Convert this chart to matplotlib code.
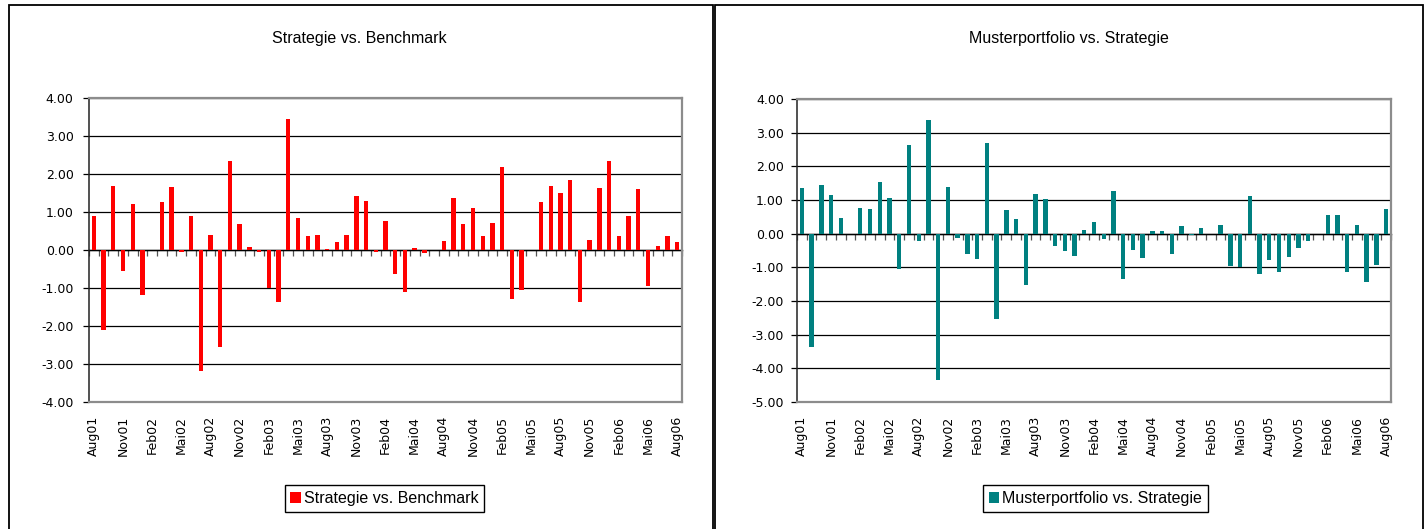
import matplotlib
matplotlib.use('Agg')
import matplotlib.pyplot as plt
import numpy as np
from matplotlib.patches import Rectangle
from matplotlib.ticker import FormatStrFormatter

plt.rcParams['axes.unicode_minus'] = False

months_de = ['Jan', 'Feb', 'Mrz', 'Apr', 'Mai', 'Jun', 'Jul', 'Aug', 'Sep', 'Okt', 'Nov', 'Dez']
categories = [f"{months_de[(7 + i) % 12]}{(1 + (7 + i) // 12):02d}" for i in range(61)]

strategie_vs_benchmark = [
    0.90, -2.10, 1.69, -0.54, 1.22, -1.18, 0.00, 1.27, 1.67, -0.04,
    0.90, -3.18, 0.40, -2.54, 2.35, 0.69, 0.09, -0.06, -1.01, -1.38,
    3.46, 0.85, 0.38, 0.40, 0.03, 0.22, 0.40, 1.43, 1.30, -0.06,
    0.77, -0.64, -1.11, 0.06, -0.09, 0.00, 0.25, 1.38, 0.69, 1.11,
    0.38, 0.72, 2.19, -1.28, -1.04, 0.00, 1.27, 1.69, 1.51, 1.85,
    -1.36, 0.27, 1.64, 2.35, 0.38, 0.90, 1.61, -0.96, 0.11, 0.38, 0.22]

musterportfolio_vs_strategie = [
    1.37, -3.37, 1.46, 1.14, 0.48, 0.00, 0.75, 0.72, 1.52, 1.05,
    -1.06, 2.62, -0.23, 3.39, -4.34, 1.40, -0.14, -0.61, -0.76, 2.68,
    -2.54, 0.69, 0.45, -1.53, 1.19, 1.02, -0.38, -0.52, -0.67, 0.10,
    0.34, -0.17, 1.28, -1.35, -0.49, -0.73, 0.07, 0.07, -0.61, 0.22,
    -0.04, 0.16, 0.00, 0.25, -0.97, -1.00, 1.11, -1.20, -0.79, -1.15,
    -0.70, -0.43, -0.23, 0.00, 0.54, 0.54, -1.14, 0.25, -1.44, -0.94, 0.72]

titles = ['Strategie vs. Benchmark', 'Musterportfolio vs. Strategie']
colors = ['#FF0000', '#008080']

W, H = 1428, 529
fig = plt.figure(figsize=(W / 100, H / 100), dpi=100)
fig.patch.set_facecolor('white')

TXT = dict(family='Liberation Sans', size=11.5)
TICKFONT = 'DejaVu Sans'


def fx(px):
    return px / W


def fy(py):
    return 1 - py / H


# panel borders
for x0, x1 in [(9, 712.5), (714.5, 1422.5)]:
    fig.add_artist(Rectangle((fx(x0), -0.05), fx(x1 - x0), fy(5) + 0.05,
                             transform=fig.transFigure, fill=False,
                             ec='black', lw=1.3, zorder=0))


def draw(rect, values, color, ymin, ymax, title, title_x, legend_x, ypad):
    ax = fig.add_axes(rect)
    n = len(values)
    x = np.arange(n)
    ax.bar(x, values, width=0.45, color=color, zorder=3, label=title)
    ax.set_xlim(-0.5, n - 0.5)
    ax.set_ylim(ymin, ymax)
    ax.set_yticks(np.arange(ymin, ymax + 1))
    ax.yaxis.set_major_formatter(FormatStrFormatter('%.2f'))
    ax.grid(axis='y', color='black', lw=0.9, zorder=1)
    ax.set_xticks(x[::3])
    ax.set_xticklabels(categories[::3], rotation=90, va='top', ha='center',
                       family=TICKFONT, fontsize=9)
    for lab in ax.get_yticklabels():
        lab.set_family(TICKFONT)
        lab.set_fontsize(9)
    ax.tick_params(axis='x', length=0, pad=10)
    ax.tick_params(axis='y', length=4, width=0.9, color='black', pad=ypad)
    for s in ['top', 'right', 'bottom']:
        ax.spines[s].set_color('#8c8c8c')
        ax.spines[s].set_linewidth(1.6)
        ax.spines[s].set_zorder(5)
    ax.spines['left'].set_color('#222222')
    ax.spines['left'].set_linewidth(1.1)
    ax.spines['left'].set_zorder(5)

    sec = ax.secondary_xaxis((0 - ymin) / (ymax - ymin))
    sec.set_alignment('bottom')
    sec.set_xticks(np.arange(-0.5, n + 0.5, 1))
    sec.set_xticklabels([])
    sec.tick_params(axis='x', direction='out', length=4, width=0.9, color='#555555')
    sec.spines['bottom'].set_color('black')
    sec.spines['bottom'].set_linewidth(1.0)

    fig.text(title_x, fy(38), title, ha='center', va='center', **TXT)
    ax.legend(loc='center', bbox_to_anchor=(legend_x, fy(498.5)),
              bbox_transform=fig.transFigure, frameon=True, fancybox=False,
              edgecolor='black', framealpha=1, handlelength=0.65,
              handleheight=0.65, handletextpad=0.2, borderpad=0.35,
              prop=dict(family='Liberation Sans', size=11.5)).get_frame().set_linewidth(1.0)
    return ax


draw([fx(89), fy(402), fx(682 - 89), (402 - 98) / H], strategie_vs_benchmark,
     colors[0], -4, 4, titles[0], fx(359), fx(384.5), 7)
draw([fx(797), fy(402), fx(1391 - 797), (402 - 99) / H], musterportfolio_vs_strategie,
     colors[1], -5, 4, titles[1], fx(1069), fx(1095.5), 5.5)

fig.savefig('out.png', dpi=100)
